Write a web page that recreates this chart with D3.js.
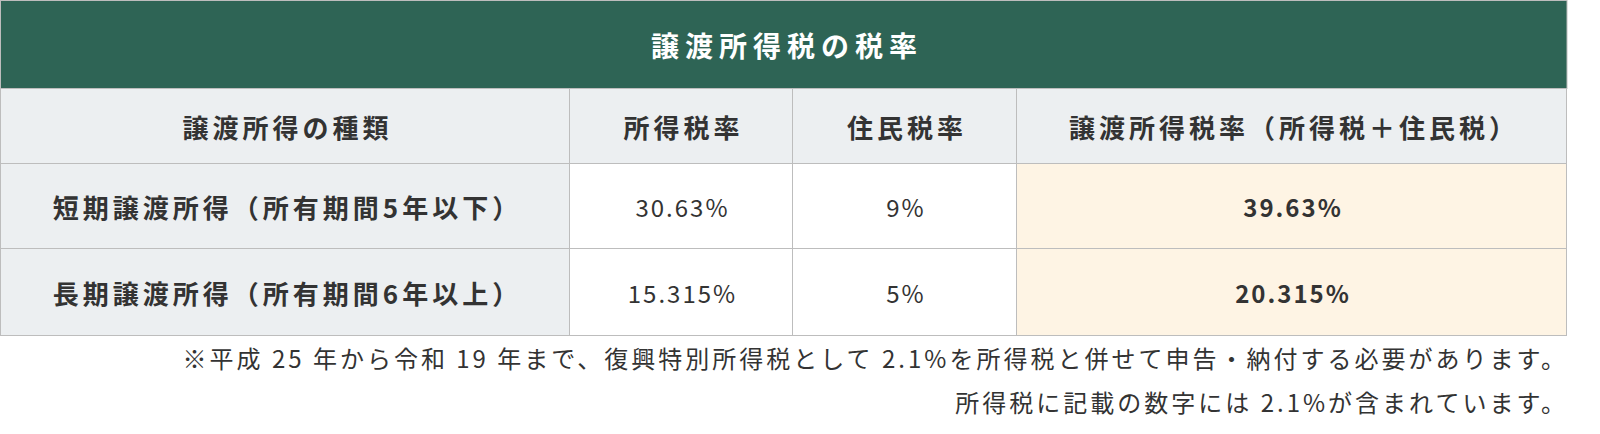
<!DOCTYPE html>
<html><head><meta charset="utf-8">
<script src="https://cdn.jsdelivr.net/npm/d3@7"></script>
<style>body{margin:0;background:#fff}</style>
</head><body>
<script>
const title = '譲渡所得税の税率'
const headers = ['譲渡所得の種類', '所得税率', '住民税率', '譲渡所得税率（所得税＋住民税）']
const rowLabels = ['短期譲渡所得（所有期間5年以下）', '長期譲渡所得（所有期間6年以上）']
const incomeTax = ['30.63%', '15.315%']
const residentTax = ['9%', '5%']
const totalTax = ['39.63%', '20.315%']
const notes = ['※平成 25 年から令和 19 年まで、復興特別所得税として 2.1%を所得税と併せて申告・納付する必要があります。',
  '所得税に記載の数字には 2.1%が含まれています。']

const w = 1600
const h = 434
const font = '"Noto Sans CJK JP", "Noto Sans", sans-serif'
const colEdges = [1, 570, 793, 1017, 1567]
const rowEdges = [88, 163, 248, 335]

const svg = d3.select('body').append('svg').attr('width', w).attr('height', h)

// title bar
svg.append('rect').attr('x', 0.5).attr('y', 0.5).attr('width', colEdges[4] - 0.5).attr('height', 88)
  .attr('fill', '#2e6455').attr('stroke', '#bdbdbd')
svg.append('text').attr('x', (colEdges[0] + colEdges[4]) / 2 + 3).attr('y', 45)
  .attr('text-anchor', 'middle').attr('dominant-baseline', 'central')
  .attr('fill', '#fff').attr('font-family', font).attr('font-weight', 700).attr('font-size', 28)
  .attr('letter-spacing', 6)
  .text(title)

const rows = [headers].concat(rowLabels.map((r, i) => [r, incomeTax[i], residentTax[i], totalTax[i]]))

rows.forEach((row, ri) => {
  row.forEach((val, ci) => {
    const x0 = colEdges[ci]
    const x1 = colEdges[ci + 1]
    const y0 = rowEdges[ri]
    const y1 = rowEdges[ri + 1]
    let fill = '#fff'
    if (ri === 0 || ci === 0) fill = '#eceff1'
    else if (ci === 3) fill = '#fef4e4'
    const bold = ri === 0 || ci === 0 || ci === 3
    const big = ri === 0 || ci === 0
    const ls = big ? 4 : 2
    svg.append('rect').attr('x', x0 - 0.5).attr('y', y0 + 0.5).attr('width', x1 - x0).attr('height', y1 - y0)
      .attr('fill', fill).attr('stroke', '#bdbdbd')
    svg.append('text').attr('x', (x0 + x1) / 2 + ls / 2).attr('y', (y0 + y1) / 2 + 1)
      .attr('text-anchor', 'middle').attr('dominant-baseline', 'central')
      .attr('fill', '#333').attr('font-family', font)
      .attr('font-weight', bold ? 700 : 400).attr('font-size', big ? 26 : 24)
      .attr('letter-spacing', ls)
      .text(val)
  })
})

notes.forEach((n, i) => {
  svg.append('text').attr('x', colEdges[4] + 1).attr('y', 357 + i * 44)
    .attr('text-anchor', 'end').attr('dominant-baseline', 'central')
    .attr('fill', '#333').attr('font-family', font).attr('font-size', 24)
    .attr('letter-spacing', 3)
    .text(n)
})
</script>
</body></html>
